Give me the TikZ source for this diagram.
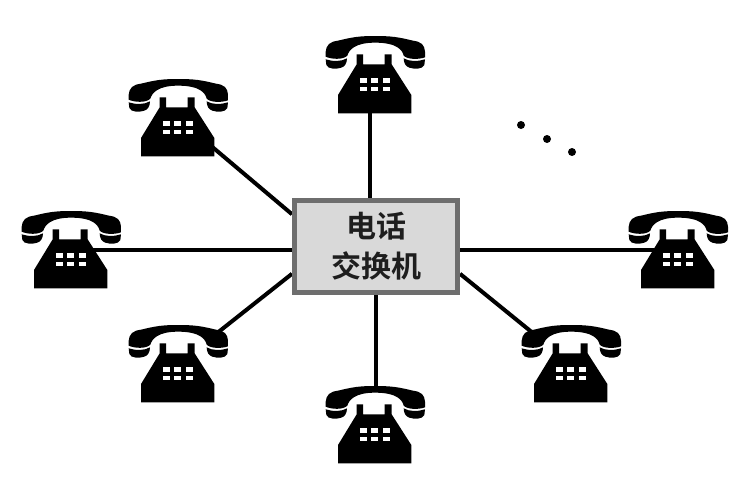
\documentclass[tikz,border=0pt]{standalone}
\usepackage{fontspec}
\newfontfamily\cjkbold{Noto Sans CJK SC Bold}
\usetikzlibrary{backgrounds}
\definecolor{boxfill}{HTML}{D9D9D9}
\definecolor{boxline}{HTML}{6E6E6E}
\definecolor{inktext}{HTML}{1E1E1E}
\tikzset{
  phonenode/.style={inner sep=0pt,minimum width=98pt,minimum height=77pt},
  wire/.style={line width=4pt,black},
  exchange/.style={draw=boxline,fill=boxfill,line width=5pt,inner sep=0pt,
    minimum width=163pt,minimum height=92pt,align=center,text=inktext,
    font=\cjkbold\fontsize{30}{40}\selectfont},
  dotmark/.style={fill=black,circle,inner sep=0pt,minimum size=8pt}
}
\newcommand\drawphone[3]{%
  \node[phonenode] (#1) at (#2,#3) {};
  \begin{scope}[shift={(#2,#3)},x=0.3333pt,y=-0.3333pt,shift={(-196,-150)}]
    \fill (48,80) .. controls (50,60) and (60,50) .. (85,47)
      .. controls (130,36) and (150,33) .. (196,33)
      .. controls (245,33) and (265,36) .. (310,47)
      .. controls (335,50) and (345,60) .. (346,80) -- (346,97)
      .. controls (330,103) and (295,105) .. (282,92)
      .. controls (278,75) and (262,53) .. (196,53)
      .. controls (135,53) and (118,75) .. (113,92)
      .. controls (100,105) and (65,103) .. (48,95) -- cycle;
    \fill (48,103) .. controls (70,110) and (95,110) .. (112,100)
      .. controls (112,115) and (105,125) .. (95,128)
      .. controls (80,133) and (55,133) .. (50,120) -- cycle;
    \fill (346,103) .. controls (324,110) and (299,110) .. (282,100)
      .. controls (282,115) and (289,125) .. (299,128)
      .. controls (314,133) and (339,133) .. (344,120) -- cycle;
    \fill (141,88) -- (160,88) -- (160,118) -- (225,118) -- (225,88) -- (246,88)
      -- (246,118) -- (305,210) -- (305,265) -- (85,265) -- (85,210) -- (141,118) -- cycle;
    \foreach \kx in {150,185,220}
      \foreach \ky in {160,185}
        \fill[white] (\kx,\ky) rectangle ++(21,13);
  \end{scope}
}
\begin{document}
\begin{tikzpicture}[x=1pt,y=-1pt]
  \useasboundingbox (0,0) rectangle (743,503);
  \drawphone{ptop}{375}{75}
  \drawphone{pul}{178}{118}
  \drawphone{pleft}{71}{250}
  \drawphone{pright}{678}{250}
  \drawphone{pll}{178}{364}
  \drawphone{plr}{571}{364}
  \drawphone{pbot}{375}{425}
  \node[exchange] (box) at (376,246.5) {电话\\交换机};
  \begin{scope}[on background layer]
    \draw[wire] (ptop.center -| box.97) -- (box.97);
    \draw[wire] (pul.center) -- (box.159.4);
    \draw[wire] (pleft.center) -- (pleft.center -| box.west);
    \draw[wire] (pright.center) -- (pright.center -| box.east);
    \draw[wire,shorten <=50pt] (pll.center) -- (box.198.7);
    \draw[wire,shorten <=50pt] (plr.center) -- (box.-18.7);
    \draw[wire,shorten >=35pt] (box.south) -- (box.south |- pbot.center);
  \end{scope}
  \node[dotmark] (d1) at (521,125) {};
  \node[dotmark] (d2) at (547,139) {};
  \node[dotmark] (d3) at (572,152) {};
\end{tikzpicture}
\end{document}
